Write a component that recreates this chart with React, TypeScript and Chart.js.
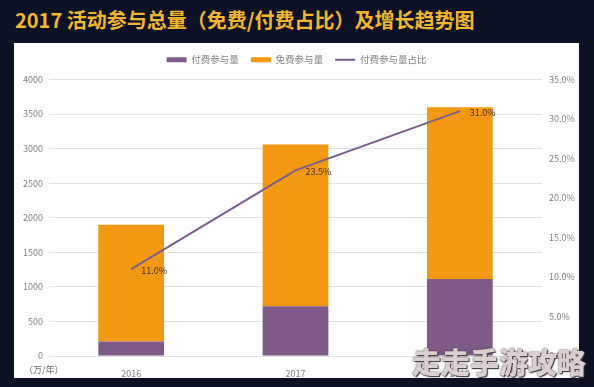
import { useEffect, useRef } from "react";
import { Chart, registerables } from "chart.js";

Chart.register(...registerables);

const titleText = "2017 活动参与总量（免费/付费占比）及增长趋势图";
const categories = ["2016", "2017", "2018"];
const seriesNames = ["付费参与量", "免费参与量", "付费参与量占比"];
const paidVolume = [210, 720, 1115];
const freeVolume = [1690, 2340, 2485];
const paidShare = [11.0, 23.5, 31.0];
const unitLabel = "（万/年）";
const watermarkText = "走走手游攻略";

const FONT = "'Noto Sans CJK SC', 'Noto Sans', sans-serif";
const PURPLE = "#7d5a87";
const ORANGE = "#f39810";
const LINE = "#7a5c8c";
const TICK = "#808080";

const annotatePlugin = {
  id: "annotate",
  afterDatasetsDraw(chart: any) {
    const ctx = chart.ctx;
    const meta = chart.getDatasetMeta(2);
    ctx.save();
    ctx.font = `9px ${FONT}`;
    ctx.fillStyle = "#3b2f22";
    ctx.textAlign = "left";
    ctx.textBaseline = "middle";
    meta.data.forEach((pt: any, i: number) => {
      ctx.fillText(paidShare[i].toFixed(1) + "%", pt.x + 10, pt.y + 1);
    });
    ctx.fillStyle = "#6a6a6a";
    ctx.font = `9px ${FONT}`;
    ctx.fillText(unitLabel, 10, chart.chartArea.bottom + 14);
    ctx.restore();
  },
};

const legendSpacer = {
  id: "legendSpacer",
  beforeInit(chart: any) {
    const legend = chart.legend;
    if (!legend) return;
    const orig = legend.fit;
    legend.fit = function () {
      orig.call(this);
      this.height += 5;
    };
  },
};

export default function App() {
  const ref = useRef<HTMLCanvasElement | null>(null);

  useEffect(() => {
    if (!ref.current) return;
    Chart.defaults.font.family = FONT;
    const chart = new Chart(ref.current, {
      type: "bar",
      data: {
        labels: categories,
        datasets: [
          {
            type: "bar",
            label: seriesNames[0],
            data: paidVolume,
            backgroundColor: PURPLE,
            borderWidth: 0,
            yAxisID: "y",
            order: 1,
            pointStyle: "rect",
            barPercentage: 0.4,
            categoryPercentage: 1,
          } as any,
          {
            type: "bar",
            label: seriesNames[1],
            data: freeVolume,
            backgroundColor: ORANGE,
            borderWidth: 0,
            yAxisID: "y",
            order: 1,
            pointStyle: "rect",
            barPercentage: 0.4,
            categoryPercentage: 1,
          } as any,
          {
            type: "line",
            label: seriesNames[2],
            data: paidShare,
            borderColor: LINE,
            backgroundColor: LINE,
            borderWidth: 2,
            pointRadius: 0,
            pointStyle: "line",
            yAxisID: "y1",
            order: 0,
            tension: 0,
          } as any,
        ],
      },
      options: {
        animation: false,
        responsive: false,
        devicePixelRatio: 1,
        layout: { padding: { top: 0, left: 0, right: 0, bottom: 0 } },
        plugins: {
          legend: {
            position: "top",
            labels: {
              usePointStyle: true,
              pointStyleWidth: 20,
              boxHeight: 5,
              padding: 12,
              color: TICK,
              font: { size: 9.5, family: FONT },
              sort: (a: any, b: any) => a.datasetIndex - b.datasetIndex,
            },
          },
          tooltip: { enabled: false },
        },
        scales: {
          x: {
            stacked: true,
            grid: { display: false },
            border: { display: false },
            ticks: { color: TICK, font: { size: 9 }, padding: 4 },
            afterFit: (s: any) => {
              s.height = 22;
            },
          },
          y: {
            stacked: true,
            position: "left",
            min: 0,
            max: 4000,
            ticks: {
              stepSize: 500,
              color: TICK,
              font: { size: 9 },
              padding: 6,
              callback: (v: any) => String(v),
            },
            grid: { color: "#e2e2e2", drawTicks: false, lineWidth: 1 },
            border: { display: false },
            afterFit: (s: any) => {
              s.width = 35;
            },
          },
          y1: {
            position: "right",
            min: 0,
            max: 35,
            ticks: {
              stepSize: 5,
              color: TICK,
              font: { size: 9 },
              padding: 7,
              callback: (v: any) => Number(v).toFixed(1) + "%",
            },
            grid: { display: false, drawTicks: false },
            border: { display: false },
            afterFit: (s: any) => {
              s.width = 37;
            },
          },
        },
      } as any,
      plugins: [legendSpacer, annotatePlugin],
    });
    return () => chart.destroy();
  }, []);

  return (
    <div
      style={{
        position: "fixed",
        left: 0,
        top: 0,
        width: 594,
        height: 387,
        background: "#0c1126",
        overflow: "hidden",
        fontFamily: FONT,
      }}
    >
      <div
        style={{
          position: "absolute",
          left: 15,
          top: 9,
          fontSize: 20,
          lineHeight: "22px",
          fontWeight: 700,
          color: "#f4b82a",
          whiteSpace: "nowrap",
        }}
      >
        {titleText}
      </div>
      <div
        style={{
          position: "absolute",
          left: 14,
          top: 43,
          width: 565,
          height: 335,
          background: "#ffffff",
        }}
      >
        <canvas ref={ref} width={565} height={335} style={{ display: "block" }} />
      </div>
      <div
        style={{
          position: "absolute",
          left: 412,
          top: 343,
          fontSize: 29,
          lineHeight: "36px",
          fontWeight: 900,
          color: "#dccfd0",
          whiteSpace: "nowrap",
          textShadow: "0 0 2px #3a3340, 1px 1px 1px #3a3340",
        }}
      >
        {watermarkText}
      </div>
    </div>
  );
}
